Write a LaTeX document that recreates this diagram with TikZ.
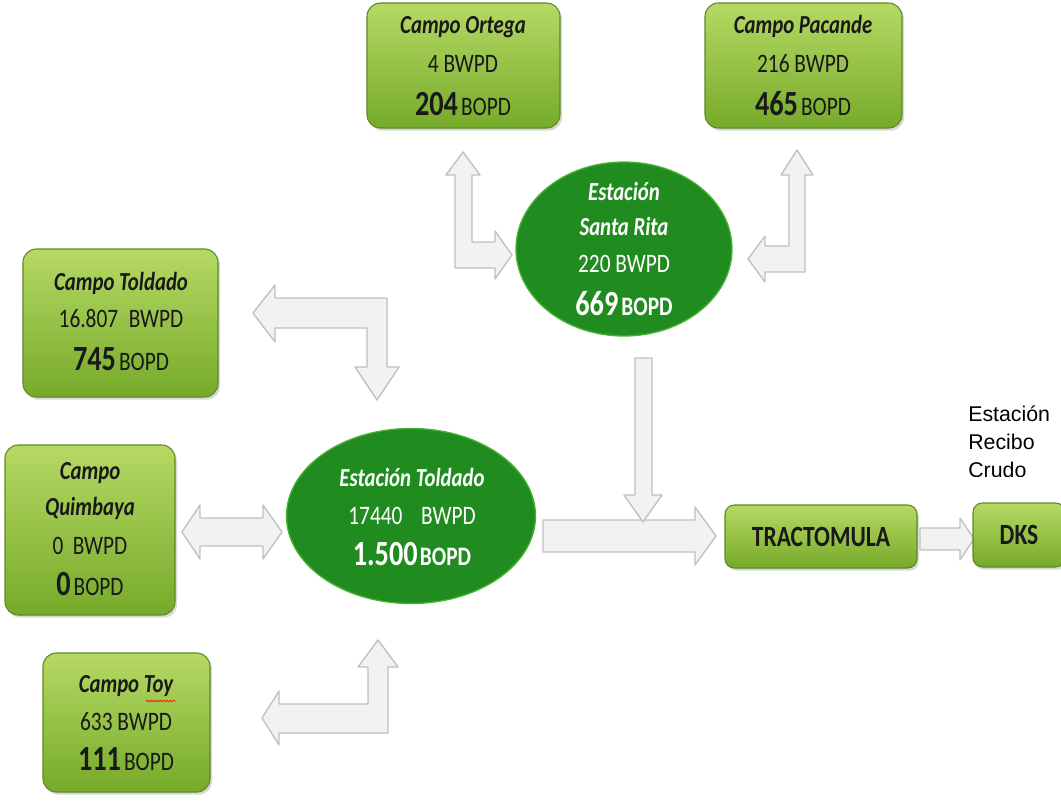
\documentclass[tikz,border=0pt]{standalone}
\usepackage{fontspec}
\setmainfont{Carlito}
\newfontfamily\calib[FakeStretch=0.8]{Carlito}
\newfontfamily\arialfont{Liberation Sans}
\usetikzlibrary{shapes.geometric,shadows,decorations.pathmorphing}

\definecolor{fieldtop}{RGB}{182,217,100}
\definecolor{fieldbot}{RGB}{118,170,42}
\definecolor{fieldedge}{RGB}{92,138,34}
\definecolor{stationgreen}{RGB}{32,140,32}
\definecolor{stationedge}{RGB}{72,178,52}

\newcommand{\fldtitle}{\calib\fontsize{19.5}{21}\selectfont\bfseries\itshape}
\newcommand{\fldrate}{\calib\fontsize{20}{21}\selectfont}
\newcommand{\fldbig}{\calib\fontsize{26.5}{28}\selectfont\bfseries}

\begin{document}
\begin{tikzpicture}[x=0.75pt,y=0.75pt,yscale=-1,xscale=1,
  fieldbox/.style={rectangle, rounded corners=10pt, draw=fieldedge, line width=0.8pt,
    top color=fieldtop, bottom color=fieldbot, inner sep=0pt,
    drop shadow={shadow xshift=1.5pt, shadow yshift=-2pt, opacity=0.3}},
  station/.style={ellipse, fill=stationgreen, draw=stationedge, line width=1pt, inner sep=0pt},
  flowarrow/.style={draw=gray!50, fill=gray!10, line width=1pt, line join=round},
  boxtxt/.style={anchor=base, inner sep=0pt, text=black!90},
  sttxt/.style={anchor=base, inner sep=0pt, text=white}]
\useasboundingbox (0,0) rectangle (1061,804);

%Block Arrows
%Ortega <-> Santa Rita
\draw [flowarrow] (463,152) -- (480,175) -- (472,175) -- (472,242) -- (495,242) -- (495,231) -- (512,255) -- (495,279) -- (495,268) -- (455,268) -- (455,175) -- (446,175) -- cycle ;
%Pacande <-> Santa Rita
\draw [flowarrow] (797,150) -- (813,175) -- (805,175) -- (805,272) -- (765,272) -- (765,282) -- (748,259) -- (765,236) -- (765,246) -- (789,246) -- (789,175) -- (781,175) -- cycle ;
%Campo Toldado <-> Estacion Toldado
\draw [flowarrow] (253,313) -- (275,285) -- (275,298) -- (387,298) -- (387,367) -- (399,367) -- (377,400) -- (355,367) -- (367,367) -- (367,328) -- (275,328) -- (275,342) -- cycle ;
%Quimbaya <-> Estacion Toldado
\draw [flowarrow] (182,532) -- (200,505) -- (200,518) -- (263,518) -- (263,505) -- (282,532) -- (263,559) -- (263,546) -- (200,546) -- (200,559) -- cycle ;
%Toy <-> Estacion Toldado
\draw [flowarrow] (378,640) -- (398,667) -- (388,667) -- (388,733) -- (279,733) -- (279,745) -- (262,718) -- (279,691) -- (279,704) -- (368,704) -- (368,667) -- (358,667) -- cycle ;
%Estacion Toldado -> Tractomula
\draw [flowarrow] (543,520) -- (695,520) -- (695,507) -- (716,536) -- (695,565) -- (695,552) -- (543,552) -- cycle ;
%Santa Rita -> line
\draw [flowarrow] (635,358) -- (652,358) -- (652,495) -- (662,495) -- (643,522) -- (624,495) -- (635,495) -- cycle ;
%Tractomula -> DKS
\draw [flowarrow] (920,528) -- (960,528) -- (960,518) -- (974,539) -- (960,560) -- (960,550) -- (920,550) -- cycle ;

%Shape: Fields
\node [fieldbox, minimum width=193*0.75pt, minimum height=125*0.75pt] (ortega) at (463.5,65.5) {};
\node [fieldbox, minimum width=197*0.75pt, minimum height=125*0.75pt] (pacande) at (803.5,65.5) {};
\node [fieldbox, minimum width=195*0.75pt, minimum height=148*0.75pt] (ctoldado) at (120.5,323) {};
\node [fieldbox, minimum width=170*0.75pt, minimum height=170*0.75pt] (quimbaya) at (90,530) {};
\node [fieldbox, minimum width=167*0.75pt, minimum height=139*0.75pt] (toy) at (126.5,722.5) {};
\node [fieldbox, minimum width=192*0.75pt, minimum height=63*0.75pt, rounded corners=7pt,
  font=\calib\fontsize{22}{23}\selectfont\bfseries, text=black!90] (tracto) at (821,536.5) {TRACTOMULA};
\node [fieldbox, minimum width=92*0.75pt, minimum height=64*0.75pt, rounded corners=7pt,
  font=\calib\fontsize{22}{23}\selectfont\bfseries, text=black!90] (dks) at (1019,535) {DKS};

%Shape: Stations
\node [station, minimum width=216*0.75pt, minimum height=174*0.75pt] (santarita) at (624,249) {};
\node [station, minimum width=249*0.75pt, minimum height=175*0.75pt] (esttoldado) at (411,516) {};

% Text Node
\node [boxtxt] (ortegaA) at (463,33) {\fldtitle Campo Ortega};
\node [boxtxt] (ortegaB) at (463,72) {\fldrate 4 BWPD};
\node [boxtxt] (ortegaC) at (463,115) {{\fldbig 204} \fldrate BOPD};
% Text Node
\node [boxtxt] (pacandeA) at (803,33) {\fldtitle Campo Pacande};
\node [boxtxt] (pacandeB) at (803,72) {\fldrate 216 BWPD};
\node [boxtxt] (pacandeC) at (803,115) {{\fldbig 465} \fldrate BOPD};
% Text Node
\node [boxtxt] (ctoldadoA) at (121,290) {\fldtitle Campo Toldado};
\node [boxtxt] (ctoldadoB) at (121,327) {\fldrate 16.807\hspace{0.4em}BWPD};
\node [boxtxt] (ctoldadoC) at (121,370) {{\fldbig 745} \fldrate BOPD};
% Text Node
\node [boxtxt] (quimbayaA) at (90,479) {\fldtitle Campo};
\node [boxtxt] (quimbayaB) at (90,515) {\fldtitle Quimbaya};
\node [boxtxt] (quimbayaC) at (90,554) {\fldrate 0\hspace{0.35em}BWPD};
\node [boxtxt] (quimbayaD) at (90,595) {{\fldbig 0} \fldrate BOPD};
% Text Node
\node [boxtxt] (toyA) at (126,692) {\fldtitle Campo Toy};
\node [boxtxt] (toyB) at (126,730) {\fldrate 633 BWPD};
\node [boxtxt] (toyC) at (126,770) {{\fldbig 111} \fldrate BOPD};
\draw [red!80!orange, line width=0.6pt, decorate, decoration={snake, amplitude=0.6pt, segment length=2.5pt}] (146,701) -- (176,701) ;
% Text Node
\node [sttxt] (santaritaA) at (624,200) {\fldtitle Estación};
\node [sttxt] (santaritaB) at (624,235) {\fldtitle Santa Rita};
\node [sttxt] (santaritaC) at (624,272) {\fldrate 220 BWPD};
\node [sttxt] (santaritaD) at (624,315) {{\fldbig 669} \fldrate\bfseries BOPD};
% Text Node
\node [sttxt] (esttoldadoA) at (412,486) {\fldtitle Estación Toldado};
\node [sttxt] (esttoldadoB) at (412,524) {\fldrate 17440\hspace{0.7em}BWPD};
\node [sttxt] (esttoldadoC) at (412,565) {{\fldbig 1.500}\,\fldrate\bfseries BOPD};

% Text Node
\begin{scope}
\clip (950,390) rectangle (1061,476);
\node [anchor=north west, inner sep=0pt, align=left, font=\arialfont\fontsize{16}{21}\selectfont] (recibo) at (968,406) {Estación\\Recibo\\Crudo};
\end{scope}

\end{tikzpicture}
\end{document}
